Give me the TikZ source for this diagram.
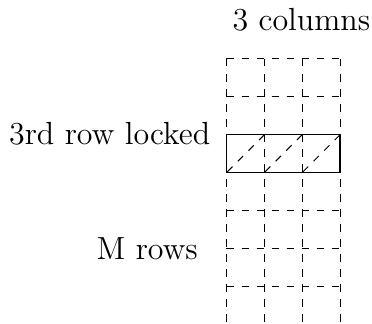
\documentclass[tikz,border=0pt]{standalone}
\usepackage{tikz}

\tikzset{
  gridline/.style={dashed},
  lockbox/.style={semithick},
  lbl/.style={font=\fontsize{12.8}{15}\selectfont, inner sep=0pt}
}

\begin{document}
\begin{tikzpicture}[x=0.532cm, y=0.532cm]
  \useasboundingbox (-5.984,1.559) rectangle (3.844,-6.975);
  % dashed grid, 3 columns
  \foreach \x in {0,1,2,3} {
    \draw[gridline] (\x,0) -- (\x,-6.975);
  }
  \foreach \y in {0,...,6} {
    \draw[gridline] (0,-\y) -- (3,-\y);
  }
  % locked row
  \draw[lockbox] (0,-2) rectangle (3,-3);
  \foreach \x in {0,1,2} {
    \draw[gridline] (\x+1,-2) -- (\x,-3);
  }
  % labels
  \node[lbl, anchor=base] (cols) at (1.978,0.748) {3 columns};
  \node[lbl, anchor=base east] (locked) at (-0.417,-2.272) {3rd row locked};
  \node[lbl, anchor=base east] (mrows) at (-0.745,-5.292) {M rows};
\end{tikzpicture}
\end{document}
